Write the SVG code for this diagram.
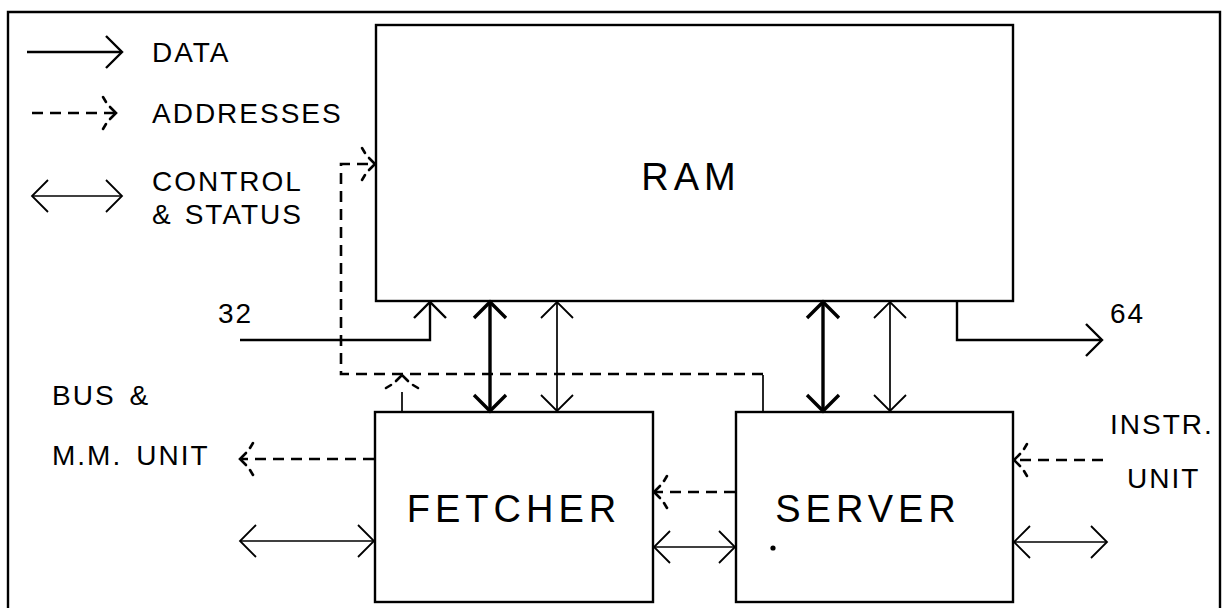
<svg xmlns="http://www.w3.org/2000/svg" width="1223" height="608" viewBox="0 0 1223 608">
<defs>
<style>
.ln{fill:none;stroke:#000;stroke-width:1.7}
.med{fill:none;stroke:#000;stroke-width:2.4}
.bold{fill:none;stroke:#000;stroke-width:3.4}
.dash{fill:none;stroke:#000;stroke-width:2.6;stroke-dasharray:11,7}
.box{fill:#fff;stroke:#000;stroke-width:2.4}
.t{font-family:"Liberation Sans",Arial,sans-serif;font-size:28px;letter-spacing:2px;fill:#000}
.big{font-family:"Liberation Sans",Arial,sans-serif;font-size:38px;letter-spacing:5px;fill:#000;text-anchor:middle}
</style>
<marker id="ah" markerUnits="userSpaceOnUse" viewBox="-20 -20 24 40" markerWidth="24" markerHeight="40" refX="0" refY="0" orient="auto-start-reverse" overflow="visible">
<path d="M-16,-16 L0,0 L-16,16" fill="none" stroke="#000" stroke-width="1.8"/>
</marker>
<marker id="ahm" markerUnits="userSpaceOnUse" viewBox="-20 -20 24 40" markerWidth="24" markerHeight="40" refX="0" refY="0" orient="auto-start-reverse" overflow="visible">
<path d="M-16,-16 L0,0 L-16,16" fill="none" stroke="#000" stroke-width="2.4"/>
</marker>
<marker id="ahb" markerUnits="userSpaceOnUse" viewBox="-20 -20 24 40" markerWidth="24" markerHeight="40" refX="0" refY="0" orient="auto-start-reverse" overflow="visible">
<path d="M-16,-16 L0,0 L-16,16" fill="none" stroke="#000" stroke-width="3.4"/>
</marker>
<marker id="ahd" markerUnits="userSpaceOnUse" viewBox="-20 -20 24 40" markerWidth="24" markerHeight="40" refX="0" refY="0" orient="auto" overflow="visible">
<g fill="none" stroke="#000" stroke-width="2.6" stroke-linecap="round">
<path d="M-13,-16 L-10,-11"/>
<path d="M-6,-6 L0,0 L-6,6"/>
<path d="M-10,11 L-13,16"/>
</g>
</marker>
</defs>
<rect width="1223" height="608" fill="#fff"/>
<path d="M8,608 V12 H1220 V608" fill="none" stroke="#000" stroke-width="2.4"/>

<g id="legend">
<line x1="27" y1="52" x2="122" y2="52" class="med" marker-end="url(#ahm)"/>
<text x="152" y="62" class="t">DATA</text>
<line x1="32" y1="113" x2="116" y2="113" class="dash" stroke-width="2" stroke-dasharray="8,5" marker-end="url(#ahd)"/>
<text x="152" y="123" class="t">ADDRESSES</text>
<line x1="32" y1="196" x2="122" y2="196" class="ln" marker-start="url(#ah)" marker-end="url(#ah)"/>
<text x="152" y="191" class="t" letter-spacing="1.5">CONTROL</text>
<text x="152" y="224" class="t">&amp;<tspan dx="12">STATUS</tspan></text>
</g>

<g id="ram">
<rect x="376" y="25" width="637" height="276" class="box"/>
<text x="691" y="190" class="big" font-size="46" letter-spacing="0">RAM</text>
</g>

<g id="fetcher">
<rect x="375" y="412" width="278" height="190" class="box"/>
<text x="514" y="522" class="big">FETCHER</text>
</g>

<g id="server">
<rect x="736" y="412" width="277" height="190" class="box"/>
<text x="868" y="522" class="big">SERVER</text>
<circle cx="773" cy="548" r="2.6" fill="#000"/>
</g>

<g id="labels">
<text x="218" y="323" class="t" letter-spacing="4">32</text>
<text x="1110" y="323" class="t" letter-spacing="4">64</text>
<text x="52" y="405" class="t">BUS<tspan dx="14">&amp;</tspan></text>
<text x="52" y="465" class="t">M.M.<tspan dx="14">UNIT</tspan></text>
<text x="1110" y="434" class="t" letter-spacing="1.5">INSTR.</text>
<text x="1127" y="488" class="t">UNIT</text>
</g>

<g id="connectors">
<!-- 32 input -->
<path d="M240,340 H430 V302" class="med" marker-end="url(#ahm)"/>
<!-- 64 output -->
<path d="M957,301 V340 H1102" class="med" marker-end="url(#ahm)"/>
<!-- RAM <-> FETCHER -->
<line x1="490" y1="302" x2="490" y2="411" class="bold" marker-start="url(#ahb)" marker-end="url(#ahb)"/>
<line x1="557" y1="302" x2="557" y2="411" class="ln" marker-start="url(#ah)" marker-end="url(#ah)"/>
<!-- RAM <-> SERVER -->
<line x1="823" y1="302" x2="823" y2="411" class="bold" marker-start="url(#ahb)" marker-end="url(#ahb)"/>
<line x1="890" y1="302" x2="890" y2="411" class="ln" marker-start="url(#ah)" marker-end="url(#ah)"/>
<!-- address bus to RAM -->
<path d="M763,412 V375" class="ln"/>
<path d="M763,374 H341 V164 H375" class="dash" marker-end="url(#ahd)"/>
<path d="M402,412 V392" class="ln"/>
<line x1="402" y1="392" x2="402" y2="375" stroke="none" marker-end="url(#ahd)"/>
<!-- fetcher to bus & M.M. unit -->
<line x1="374" y1="459" x2="240" y2="459" class="dash" stroke-width="2.2" marker-end="url(#ahd)"/>
<line x1="240" y1="541" x2="374" y2="541" class="ln" marker-start="url(#ah)" marker-end="url(#ah)"/>
<!-- server to fetcher -->
<line x1="735" y1="492" x2="654" y2="492" class="dash" stroke-width="3" marker-end="url(#ahd)"/>
<line x1="654" y1="547" x2="735" y2="547" class="ln" marker-start="url(#ah)" marker-end="url(#ah)"/>
<!-- instr unit to server -->
<line x1="1103" y1="460" x2="1014" y2="460" class="dash" stroke-width="2.2" marker-end="url(#ahd)"/>
<line x1="1014" y1="542" x2="1107" y2="542" class="ln" marker-start="url(#ah)" marker-end="url(#ah)"/>
</g>
</svg>
